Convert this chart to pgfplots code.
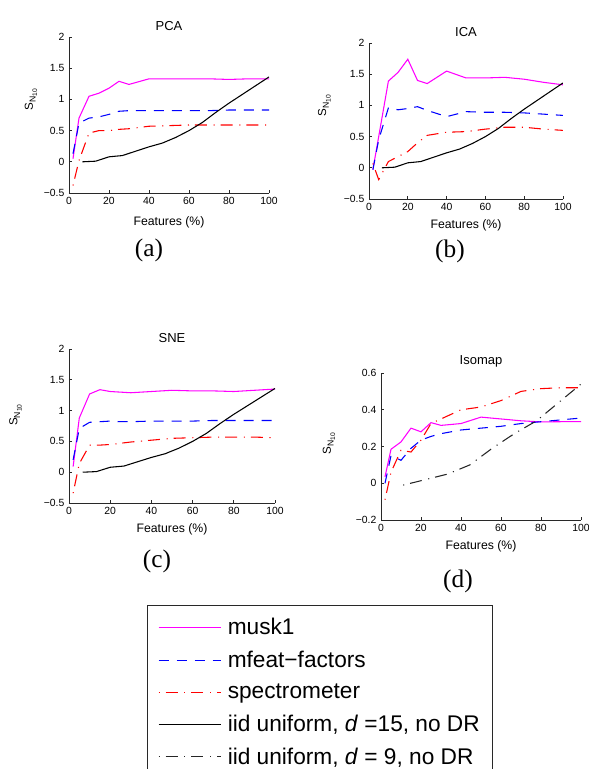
\documentclass[border=0pt]{standalone}
\usepackage{fontspec}
\setmainfont{Liberation Sans}
\newfontfamily\capfont{Liberation Serif}
\usepackage{pgfplots}
\pgfplotsset{compat=1.18}
\definecolor{cmag}{RGB}{255,0,255}
\definecolor{cblue}{RGB}{0,0,255}
\definecolor{cred}{RGB}{255,0,0}
\definecolor{axgray}{RGB}{40,40,40}

\newcommand{\ylab}{S\raisebox{-0.45ex}{\fontsize{6.5}{7}\selectfont N\raisebox{-0.35ex}{\fontsize{5}{6}\selectfont 10}}}

\pgfplotsset{
  panel/.style={
    scale only axis,
    anchor=south west,
    axis lines=left,
    axis line style={-, line width=0.6pt, axgray},
    tick align=inside,
    major tick length=2.2pt,
    tick style={axgray, line width=0.5pt},
    xmin=0, xmax=100,
    xtick={0,20,40,60,80,100},
    xticklabels={0,20,40,60,80,100},
    tick label style={font=\fontsize{7.8}{9}\selectfont},
    title style={font=\fontsize{9.75}{11}\selectfont, at={(axis description cs:0.5,1)}, anchor=center, yshift=2.5pt},
    xlabel={Features (\%)},
    xlabel style={font=\fontsize{9.2}{11}\selectfont, at={(axis description cs:0.5,0)}, anchor=center},
    ylabel={\ylab},
    ylabel style={font=\fontsize{8.7}{10}\selectfont, anchor=center},
  },
  bigy/.style={
    ymin=-0.5, ymax=2,
    ytick={-0.5,0,0.5,1,1.5,2},
    yticklabels={−0.5,0,0.5,1,1.5,2},
  },
  musk/.style={color=cmag, draw=cmag, line width=0.8pt},
  mfeat/.style={color=cblue, draw=cblue, line width=0.8pt, dash pattern=on 7.5pt off 6pt},
  spec/.style={color=cred, draw=cred, line width=0.8pt, dash pattern=on 0.8pt off 4.5pt on 9pt off 5pt},
  iidA/.style={color=black, draw=black, line width=0.8pt},
  iidB/.style={color=black!85, draw=black!85, line width=0.8pt, dash pattern=on 0.8pt off 4.5pt on 9pt off 5pt},
}

\begin{document}
\begin{tikzpicture}
\useasboundingbox (0pt,0pt) rectangle (441.75pt,-576.75pt);

% (a) PCA
\begin{axis}[panel, bigy, at={(51.75pt,-144.75pt)}, width=150pt, height=117pt,
  title={PCA},
  xlabel style={yshift=-21.75pt},
  ylabel style={at={(axis description cs:-0.19,0.6)}}]
\addplot[musk] coordinates {(2,0.05)(5,0.7)(10,1.05)(15,1.1)(20,1.18)(25,1.29)(30,1.24)(40,1.33)(50,1.33)(60,1.33)(70,1.33)(80,1.32)(90,1.33)(100,1.33)};
\addplot[mfeat] coordinates {(2,0.13)(5,0.62)(10,0.7)(15,0.72)(20,0.76)(25,0.81)(30,0.82)(40,0.82)(50,0.82)(60,0.82)(70,0.82)(80,0.83)(90,0.83)(100,0.83)};
\addplot[spec] coordinates {(2,-0.38)(5,0.02)(10,0.46)(15,0.5)(20,0.5)(25,0.52)(30,0.53)(40,0.57)(50,0.58)(60,0.59)(70,0.59)(80,0.59)(90,0.59)(100,0.59)};
\addplot[iidA] coordinates {(6.67,0.0)(13.33,0.01)(20,0.08)(26.67,0.1)(33.33,0.17)(40,0.24)(46.67,0.3)(53.33,0.39)(60,0.5)(66.67,0.63)(73.33,0.79)(80,0.94)(86.67,1.08)(93.33,1.22)(100,1.36)};
\end{axis}

% (b) ICA
\begin{axis}[panel, bigy, at={(276.75pt,-149.25pt)}, width=145.5pt, height=117pt,
  title={ICA},
  xlabel style={yshift=-19.5pt},
  ylabel style={at={(axis description cs:-0.23,0.6)}}]
\addplot[musk] coordinates {(2,-0.03)(5,0.5)(10,1.39)(15,1.53)(20,1.74)(25,1.4)(30,1.35)(40,1.55)(50,1.44)(60,1.44)(70,1.45)(80,1.42)(90,1.37)(100,1.33)};
\addplot[mfeat] coordinates {(2,-0.03)(5,0.45)(10,0.96)(15,0.93)(20,0.95)(25,0.98)(30,0.92)(40,0.82)(50,0.9)(60,0.89)(70,0.89)(80,0.88)(90,0.86)(100,0.84)};
\addplot[spec] coordinates {(2,0.07)(5,-0.19)(10,0.1)(15,0.18)(20,0.26)(25,0.4)(30,0.52)(40,0.57)(50,0.58)(60,0.62)(70,0.65)(80,0.65)(90,0.62)(100,0.6)};
\addplot[iidA] coordinates {(6.67,0.0)(13.33,0.01)(20,0.08)(26.67,0.1)(33.33,0.17)(40,0.24)(46.67,0.3)(53.33,0.39)(60,0.5)(66.67,0.63)(73.33,0.79)(80,0.94)(86.67,1.08)(93.33,1.22)(100,1.36)};
\end{axis}

% (c) SNE
\begin{axis}[panel, bigy, at={(51.75pt,-377.25pt)}, width=154.5pt, height=115.5pt,
  title={SNE},
  xlabel style={yshift=-19.5pt},
  ylabel style={at={(axis description cs:-0.26,0.57)}}]
\addplot[musk] coordinates {(2,0.09)(5,0.88)(10,1.27)(15,1.34)(20,1.31)(25,1.3)(30,1.29)(40,1.31)(50,1.33)(60,1.32)(70,1.32)(80,1.31)(90,1.33)(100,1.35)};
\addplot[mfeat] coordinates {(2,0.2)(5,0.71)(10,0.81)(15,0.82)(20,0.83)(25,0.82)(30,0.82)(40,0.83)(50,0.83)(60,0.83)(70,0.84)(80,0.84)(90,0.84)(100,0.84)};
\addplot[spec] coordinates {(2,-0.34)(5,0.14)(10,0.44)(15,0.44)(20,0.45)(25,0.47)(30,0.49)(40,0.52)(50,0.55)(60,0.56)(70,0.57)(80,0.57)(90,0.57)(100,0.56)};
\addplot[iidA] coordinates {(6.67,0.0)(13.33,0.01)(20,0.08)(26.67,0.1)(33.33,0.17)(40,0.24)(46.67,0.3)(53.33,0.39)(60,0.5)(66.67,0.63)(73.33,0.79)(80,0.94)(86.67,1.08)(93.33,1.22)(100,1.36)};
\end{axis}

% (d) Isomap
\begin{axis}[panel, at={(285.75pt,-390pt)}, width=150pt, height=110.25pt,
  title={Isomap},
  ymin=-0.2, ymax=0.6,
  ytick={-0.2,0,0.2,0.4,0.6},
  yticklabels={−0.2,0,0.2,0.4,0.6},
  xlabel style={yshift=-19.5pt},
  ylabel style={at={(axis description cs:-0.26,0.52)}}]
\addplot[musk] coordinates {(2,0.035)(5,0.185)(10,0.225)(15,0.3)(20,0.28)(25,0.33)(30,0.315)(40,0.325)(50,0.36)(60,0.35)(70,0.34)(80,0.334)(90,0.335)(100,0.335)};
\addplot[mfeat] coordinates {(2,0.0)(5,0.15)(10,0.125)(15,0.19)(20,0.235)(25,0.255)(30,0.27)(40,0.29)(50,0.3)(60,0.31)(70,0.325)(80,0.335)(90,0.345)(100,0.355)};
\addplot[spec] coordinates {(2,-0.09)(5,0.06)(10,0.18)(15,0.17)(20,0.235)(25,0.325)(30,0.35)(40,0.4)(50,0.415)(60,0.45)(70,0.5)(80,0.515)(90,0.52)(100,0.52)};
\addplot[iidB] coordinates {(11.11,-0.01)(22.22,0.02)(33.33,0.05)(44.44,0.1)(55.56,0.19)(66.67,0.27)(77.78,0.34)(88.89,0.44)(100,0.54)};
\end{axis}

% legend
\begin{axis}[hide axis, scale only axis, width=20pt, height=20pt,
  at={(110.25pt,-453.75pt)}, anchor=north west,
  xmin=0, xmax=1, ymin=0, ymax=1,
  legend cell align=left,
  legend image code/.code={\draw (0pt,0pt) -- (47pt,0pt); \path (49.5pt,0pt);},
  legend style={at={(0,1)}, anchor=north west, draw=axgray, line width=1.1pt,
    font=\fontsize{17}{19}\selectfont, inner xsep=7.75pt, inner ysep=7.5pt,
    row sep=6.75pt, nodes={inner sep=2pt}}]
\addlegendimage{musk}
\addlegendentry{musk1}
\addlegendimage{mfeat}
\addlegendentry{mfeat−factors}
\addlegendimage{spec}
\addlegendentry{spectrometer}
\addlegendimage{iidA}
\addlegendentry{iid uniform, \textit{d} =15, no DR}
\addlegendimage{iidB}
\addlegendentry{iid uniform, \textit{d} = 9, no DR}
\end{axis}

% sub-figure captions
\node[font=\capfont\fontsize{19}{22}\selectfont] at (111.75pt,-187.5pt) {(a)};
\node[font=\capfont\fontsize{19}{22}\selectfont] at (337.5pt,-188.25pt) {(b)};
\node[font=\capfont\fontsize{19}{22}\selectfont] at (117.75pt,-420.75pt) {(c)};
\node[font=\capfont\fontsize{19}{22}\selectfont] at (343.5pt,-435.75pt) {(d)};
\end{tikzpicture}
\end{document}
